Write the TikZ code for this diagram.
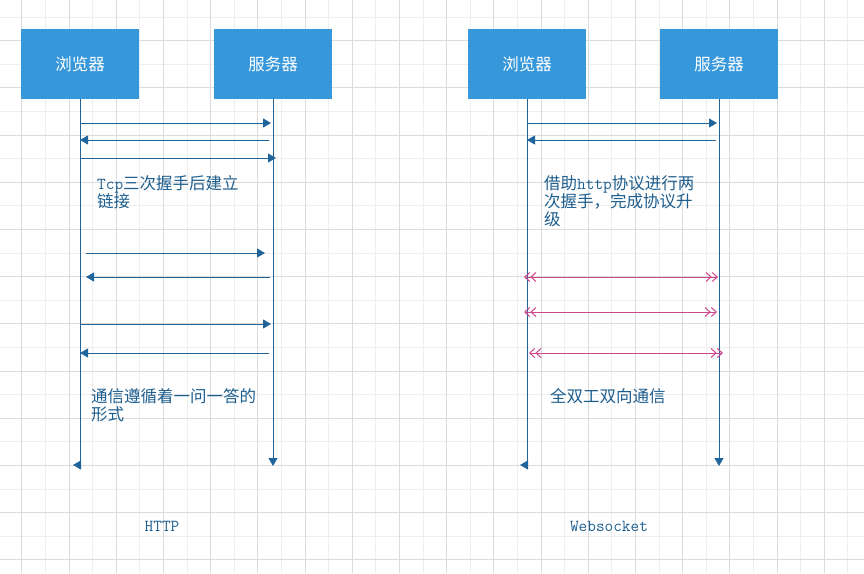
\documentclass[tikz,border=0pt]{standalone}
\usepackage{fontspec}
\usetikzlibrary{arrows.meta,positioning}
\newfontfamily\cjk{Noto Sans CJK SC}
\definecolor{boxblue}{RGB}{54,152,219}
\definecolor{lineblue}{RGB}{32,100,156}
\definecolor{textblue}{RGB}{30,94,142}
\definecolor{duplexpink}{RGB}{206,70,140}
\definecolor{griddark}{RGB}{220,220,220}
\definecolor{gridlight}{RGB}{238,238,238}

\tikzset{
  party/.style={fill=boxblue, text=white, minimum width=118pt, minimum height=70pt,
    inner sep=0pt, font=\cjk\fontsize{16.5}{18}\selectfont},
  lifeline/.style={draw=lineblue, line width=1pt},
  msg/.style={draw=lineblue, line width=1pt, -{Triangle[length=8pt,width=9pt]}},
  duplex/.style={draw=duplexpink, line width=1pt,
    {Straight Barb[length=5pt,width=9pt]Straight Barb[length=5pt,width=9pt]}-{Straight Barb[length=5pt,width=9pt]Straight Barb[length=5pt,width=9pt]}},
  note/.style={text=textblue, anchor=north west, inner sep=0pt, align=left,
    font=\cjk\fontsize{16.5}{18}\selectfont},
  caption/.style={text=textblue, inner sep=0pt, font=\ttfamily\fontsize{16.8}{18}\selectfont}
}

\begin{document}
\begin{tikzpicture}[x=1pt, y=-1pt]
  \useasboundingbox (0,0) rectangle (864,573);
  \clip (0,0) rectangle (864,573);
  % grid
  \foreach \k in {-1,...,18} \draw[gridlight, line width=1pt] ({45.5+47.2*\k},0) -- ++(0,573);
  \foreach \k in {0,...,12} \draw[gridlight, line width=1pt] (0,{17.1+47.2*\k}) -- ++(864,0);
  \foreach \k in {0,...,18} \draw[griddark, line width=1pt] ({21.9+47.2*\k},0) -- ++(0,573);
  \foreach \k in {0,...,11} \draw[griddark, line width=1pt] (0,{40.7+47.2*\k}) -- ++(864,0);

  % HTTP side
  \node[party] (b1) at (80,64) {浏览器};
  \node[party] (s1) at (273,64) {服务器};
  \coordinate (e1) at (80,465);
  \draw[lifeline] (b1.south) -- (e1);
  \draw[msg] (e1) -- ++(-7,0);
  \draw[msg] (s1.south) -- (s1.south |- 0,466);

  \draw[msg] (b1.south |- 0,123) -- ([xshift=-2pt]s1.south |- 0,123);
  \draw[msg] ([xshift=-4pt]s1.south |- 0,140) -- (b1.south |- 0,140);
  \draw[msg] (b1.south |- 0,158) -- ([xshift=3pt]s1.south |- 0,158);
  \node[note] (tcp) at (97,175) {{\ttfamily\fontsize{16.8}{18}\selectfont Tcp}三次握手后建立\\链接};
  \draw[msg] ([xshift=6pt]b1.south |- 0,253) -- ([xshift=-8pt]s1.south |- 0,253);
  \draw[msg] ([xshift=-3pt]s1.south |- 0,277) -- ([xshift=6pt]b1.south |- 0,277);
  \draw[msg] (b1.south |- 0,324) -- ([xshift=-2pt]s1.south |- 0,324);
  \draw[msg] ([xshift=-4pt]s1.south |- 0,353) -- (b1.south |- 0,353);
  \node[note] (ask) at (91,388) {通信遵循着一问一答的\\形式};
  \node[caption] (http) at (162,526) {HTTP};

  % Websocket side
  \node[party] (b2) at (527,64) {浏览器};
  \node[party] (s2) at (719,64) {服务器};
  \coordinate (e2) at (527,465);
  \draw[lifeline] (b2.south) -- (e2);
  \draw[msg] (e2) -- ++(-7,0);
  \draw[msg] (s2.south) -- (s2.south |- 0,466);

  \draw[msg] (b2.south |- 0,123) -- ([xshift=-2pt]s2.south |- 0,123);
  \draw[msg] ([xshift=-3pt]s2.south |- 0,140) -- (b2.south |- 0,140);
  \node[note] (upg) at (544,175) {借助{\ttfamily\fontsize{16.8}{18}\selectfont http}协议进行两\\次握手，完成协议升\\级};
  \draw[duplex] ([xshift=-3pt]b2.south |- 0,277) -- ([xshift=-1pt]s2.south |- 0,277);
  \draw[duplex] ([xshift=-3pt]b2.south |- 0,312) -- ([xshift=-2pt]s2.south |- 0,312);
  \draw[duplex] ([xshift=2pt]b2.south |- 0,353) -- ([xshift=4pt]s2.south |- 0,353);
  \node[note] (duplex) at (550,388) {全双工双向通信};
  \node[caption] (ws) at (609,526) {Websocket};
\end{tikzpicture}
\end{document}
